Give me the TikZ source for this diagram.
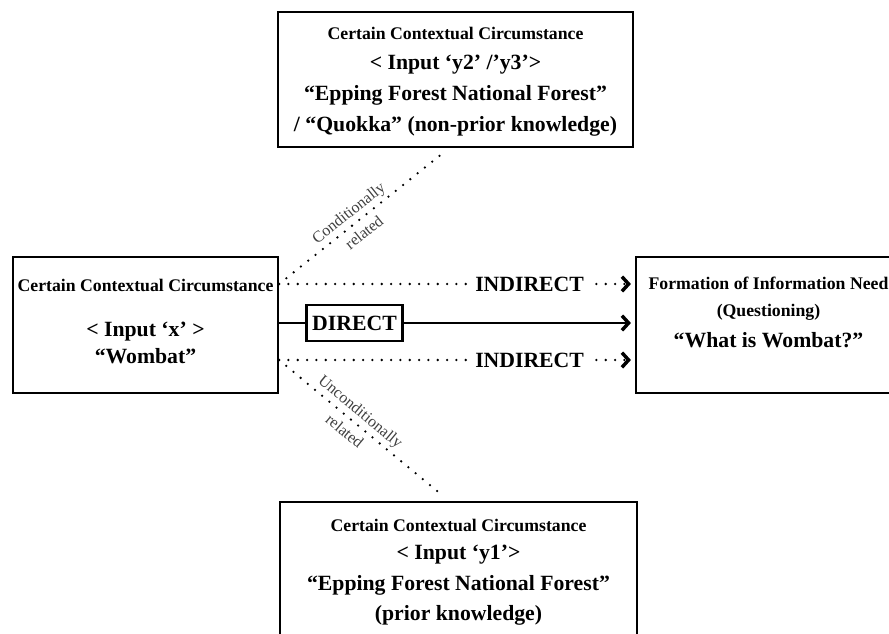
\documentclass[tikz,border=0pt]{standalone}
\usepackage{fontspec}
\setmainfont{Liberation Serif}
\usetikzlibrary{positioning,arrows.meta,calc}

\newcommand{\titlefont}{\fontsize{13.3}{16}\selectfont}
\newcommand{\bodyfont}{\fontsize{16.3}{23}\selectfont\bfseries}

\tikzset{
  cbox/.style={draw, line width=1.6pt, inner sep=0pt},
  boxtext/.style={align=center, font=\bodyfont},
  dotline/.style={line width=1.9pt, line cap=round, dash pattern=on 0pt off 7pt},
  arrowtip/.style={-{Straight Barb[length=5pt,width=11pt,line width=2.6pt]}, shorten >=3pt},
  relation/.style={font=\fontsize{12}{19}\selectfont, text=black!75, align=center, sloped},
}

\begin{document}
\begin{tikzpicture}[x=0.75pt, y=0.75pt]
  \useasboundingbox (0,0) rectangle (889,633);

  % the four circumstances
  \node[cbox, minimum width=198.75pt, minimum height=102pt] (inx) at (145.5,308) {};
  \node[cbox, minimum width=198.75pt, minimum height=102pt] (need) at (768.5,308) {};
  \node[cbox, minimum width=266.25pt, minimum height=101.25pt] (iny23) at (455.5,553.5) {};
  \node[cbox, minimum width=267.75pt, minimum height=102pt] (iny1) at (458.5,63) {};

  \node[boxtext] (inxtext) at ($(inx)+(0,3.5)$) {%
    {\titlefont Certain Contextual Circumstance}\\[10.5pt]
    < Input ‘x’ >\\[-2.8pt]
    “Wombat”};
  \node[boxtext] (needtext) at ($(need)+(0,12.5)$) {%
    {\titlefont Formation of Information Need}\\[-2.8pt]
    {\titlefont (Questioning)}\\
    “What is Wombat?”};
  \node[boxtext] (iny23text) at ($(iny23)+(0,-2)$) {%
    {\titlefont Certain Contextual Circumstance}\\
    < Input ‘y2’ /’y3’>\\
    “Epping Forest National Forest”\\
    / “Quokka” (non-prior knowledge)};
  \node[boxtext] (iny1text) at ($(iny1)+(0,-2.5)$) {%
    {\titlefont Certain Contextual Circumstance}\\[-2pt]
    < Input ‘y1’>\\
    “Epping Forest National Forest”\\
    (prior knowledge)};

  % links
  \draw[dotline, arrowtip] ([yshift=30.75pt]inx.east) -- ([yshift=30.75pt]need.west)
    node[pos=0.704, fill=white, inner xsep=5pt, font=\bodyfont] (upind) {INDIRECT};
  \draw[line width=1.6pt, arrowtip] ([yshift=1.5pt]inx.east) -- ([yshift=1.5pt]need.west)
    node[pos=0.212, draw, fill=white, line width=1.6pt, inner sep=0pt,
         minimum width=72pt, minimum height=27pt, font=\bodyfont] (direct) {DIRECT};
  \draw[dotline, arrowtip] ([yshift=-26.25pt]inx.east) -- ([yshift=-26.25pt]need.west)
    node[pos=0.704, fill=white, inner xsep=5pt, font=\bodyfont] (downind) {INDIRECT};

  \draw[dotline] ([yshift=30.75pt]inx.east) -- ($(iny23.south)+(-12.5,-5)$)
    node[relation, pos=0.47] (cond) {Conditionally\\related};
  \draw[dotline] ([yshift=-26.25pt]inx.east) -- ($(iny1.north)+(-15.5,5)$)
    node[relation, pos=0.45] (uncond) {Unconditionally\\related};
\end{tikzpicture}
\end{document}
